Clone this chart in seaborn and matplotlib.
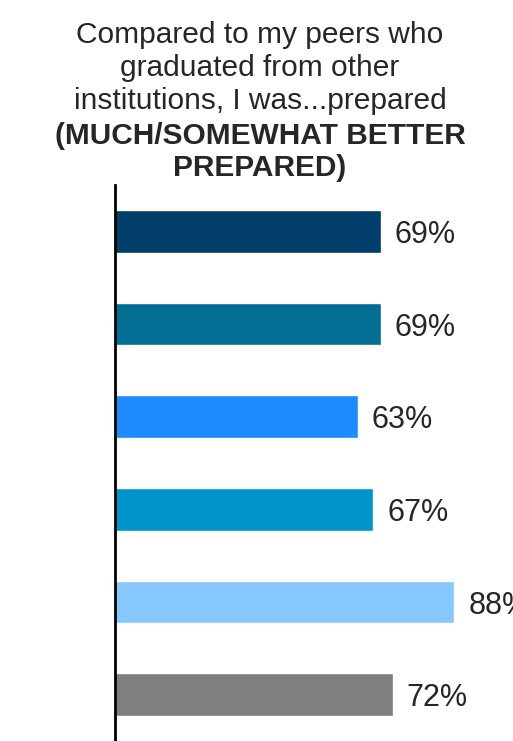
import matplotlib
matplotlib.use("Agg")
import matplotlib.pyplot as plt
import seaborn as sns
import pandas as pd

categories = ["A", "B", "C", "D", "E", "F"]
values = [69, 69, 63, 67, 88, 72]
labels = ["69%", "69%", "63%", "67%", "88%", "72%"]
colors = ["#023F6A", "#026E94", "#1F8BFF", "#0093CC", "#86C7FE", "#7F7F7F"]

sns.set_style("white")
plt.rcParams["font.family"] = ["Liberation Sans", "DejaVu Sans"]

df = pd.DataFrame({"cat": categories, "val": values})

fig = plt.figure(figsize=(5.13, 7.41), dpi=100)
ax = fig.add_axes([115 / 513, 0, (513 - 115) / 513, (741 - 185) / 741])

sns.barplot(data=df, x="val", y="cat", hue="cat", palette=colors, legend=False,
            orient="h", width=0.46, ax=ax, saturation=1)

for i, (v, lab) in enumerate(zip(values, labels)):
    ax.text(v + 3.6, i + 0.04, lab, va="center", ha="left", fontsize=22, color="#262626",
            clip_on=False)

ax.set_xlim(0, 103.2)
ax.set_ylim(5.5, -0.5)
ax.set_xlabel("")
ax.set_ylabel("")
ax.set_xticks([])
ax.set_yticks([])
for s in ["top", "right", "bottom"]:
    ax.spines[s].set_visible(False)
ax.spines["left"].set_color("black")
ax.spines["left"].set_linewidth(2)

fig.text(0.507, 1 - 68 / 741, "Compared to my peers who\ngraduated from other\ninstitutions, I was...prepared",
         ha="center", va="center", fontsize=21.5, color="#262626", linespacing=1.21)
fig.text(0.507, 1 - 152 / 741, "(MUCH/SOMEWHAT BETTER\nPREPARED)",
         ha="center", va="center", fontsize=21.5, color="#262626", fontweight="bold",
         linespacing=1.21)

fig.savefig("out.png", dpi=100)
